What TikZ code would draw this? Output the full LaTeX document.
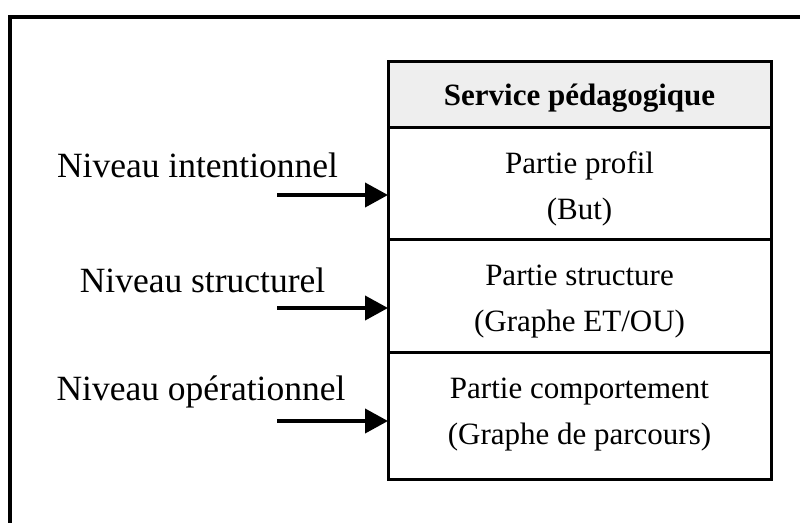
\documentclass[tikz,border=0pt]{standalone}
\usepackage{fontspec}
\setmainfont{Liberation Serif}
\usetikzlibrary{arrows.meta}
\definecolor{hdrgray}{RGB}{238,238,238}
\begin{document}
\begin{tikzpicture}[x=1pt,y=-1pt,
  rowbox/.style={draw, line width=3pt, minimum width=383pt, inner sep=0pt, outer sep=0pt, anchor=north},
  lbl/.style={font=\fontsize{35.5}{42}\selectfont, anchor=base, inner sep=0pt},
  txt/.style={font=\fontsize{31}{46}\selectfont, anchor=base, inner sep=0pt},
  hdrtxt/.style={font=\fontsize{31}{46}\selectfont\bfseries, anchor=base, inner sep=0pt},
  arr/.style={line width=4pt, -{Triangle[length=23pt,width=24pt]}},
  frame/.style={line width=4pt}
]
\useasboundingbox (0,0) rectangle (800,522);
\draw[frame] (10,530) -- (10,16.5) -- (810,16.5);

% box rows
\node[rowbox, fill=hdrgray, minimum height=66pt] (hdr) at (579.5,61) {};
\node[rowbox, minimum height=112pt] (prof) at (579.5,127) {};
\node[rowbox, minimum height=113.5pt] (struc) at (579.5,239) {};
\node[rowbox, minimum height=126.5pt] (comp) at (579.5,352.5) {};

% box texts
\node[hdrtxt] (thdr) at (579.5,105) {Service pédagogique};
\node[txt] (tp1) at (579.5,173) {Partie profil};
\node[txt] (tp2) at (579.5,219) {(But)};
\node[txt] (ts1) at (579.5,285) {Partie structure};
\node[txt] (ts2) at (579.5,331) {(Graphe ET/OU)};
\node[txt] (tc1) at (579.5,398) {Partie comportement};
\node[txt] (tc2) at (579.5,444) {(Graphe de parcours)};

% level labels
\node[lbl] (l1) at (197.5,177) {Niveau intentionnel};
\node[lbl] (l2) at (202.5,292) {Niveau structurel};
\node[lbl] (l3) at (201,400) {Niveau opérationnel};

% arrows
\coordinate (s1) at (277,195);
\coordinate (s2) at (277,308);
\coordinate (s3) at (277,421);
\draw[arr] (s1) -- (s1 -| prof.west);
\draw[arr] (s2) -- (s2 -| struc.west);
\draw[arr] (s3) -- (s3 -| comp.west);
\end{tikzpicture}
\end{document}
